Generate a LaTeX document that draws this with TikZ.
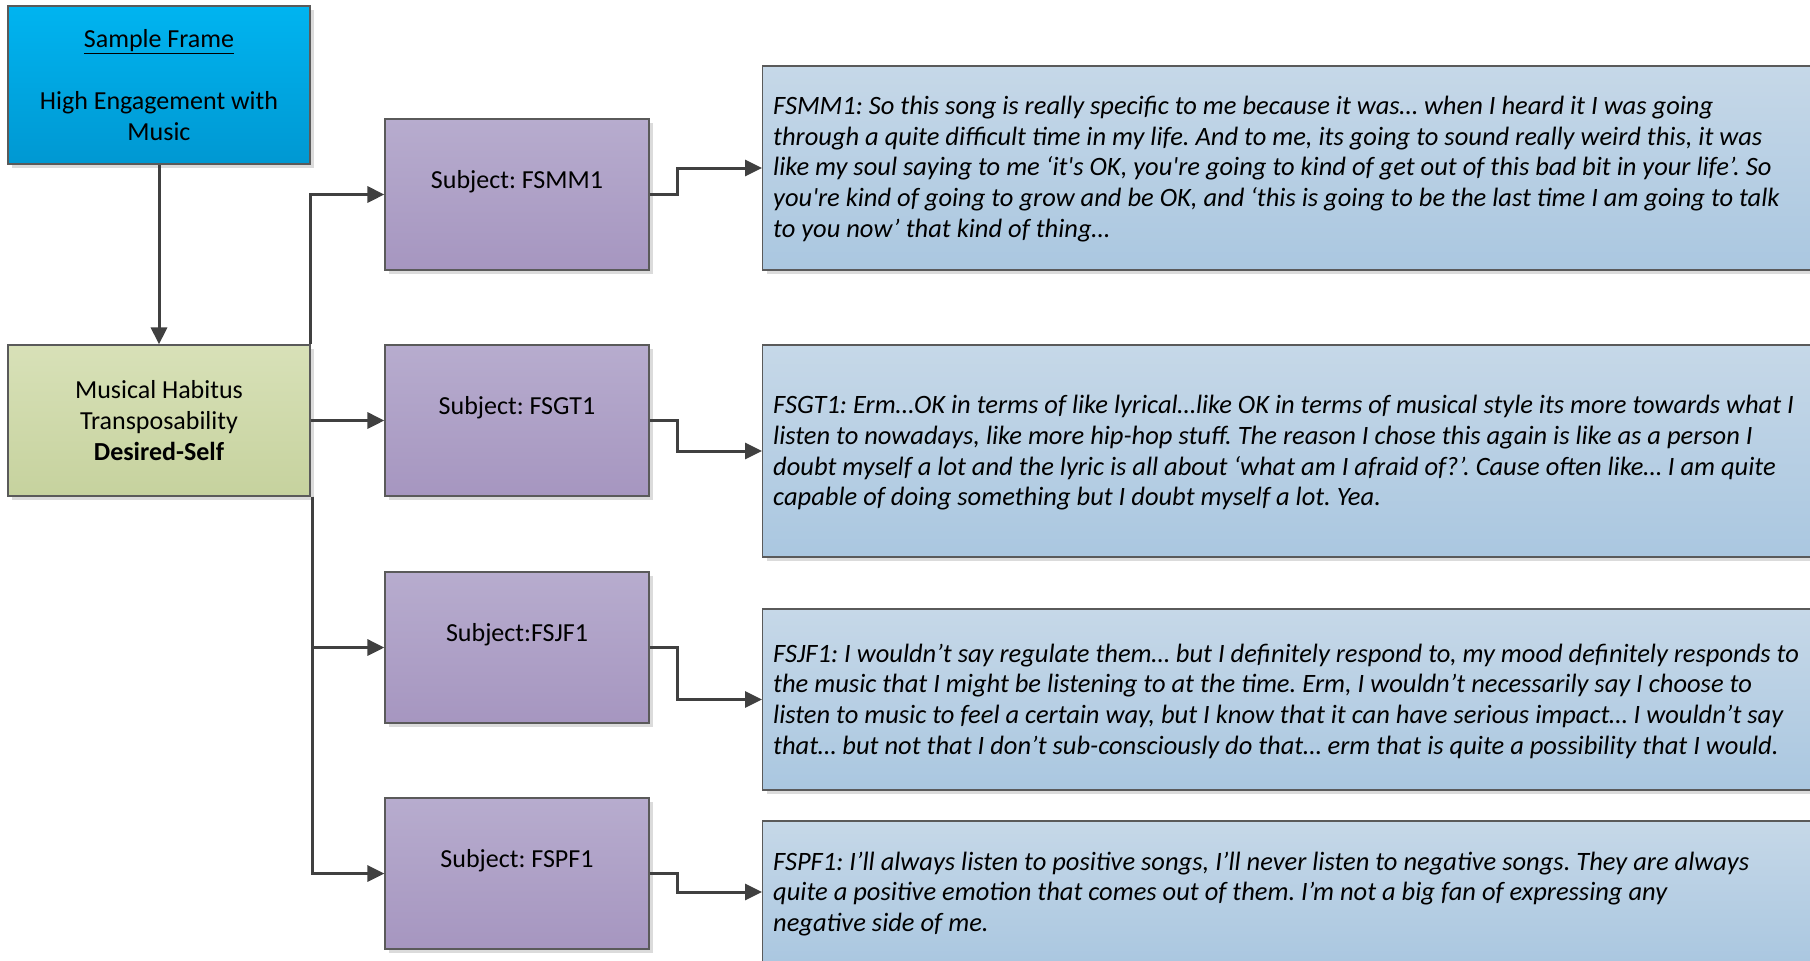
\documentclass[tikz,border=0pt]{standalone}
\usepackage{fontspec}
\setmainfont{Carlito}
\usetikzlibrary{arrows.meta,shadows}

\definecolor{frameTop}{RGB}{0,180,240}
\definecolor{frameBot}{RGB}{0,152,210}
\definecolor{habTop}{RGB}{216,225,184}
\definecolor{habBot}{RGB}{198,210,158}
\definecolor{subjTop}{RGB}{183,172,206}
\definecolor{subjBot}{RGB}{166,150,192}
\definecolor{quoteTop}{RGB}{198,216,232}
\definecolor{quoteBot}{RGB}{170,199,224}
\definecolor{edgeGray}{RGB}{90,90,90}
\definecolor{lineGray}{RGB}{64,64,64}

\tikzset{
  every node/.style={font=\fontsize{26}{31}\selectfont, text=black},
  boxbase/.style={draw=edgeGray, line width=1.2pt, rectangle, inner sep=0pt,
    drop shadow={shadow xshift=4pt, shadow yshift=-4pt, fill=black!14, opacity=1}},
  framebox/.style={boxbase, top color=frameTop, bottom color=frameBot,
    minimum width=302pt, minimum height=158pt, align=center},
  habitusbox/.style={boxbase, top color=habTop, bottom color=habBot,
    minimum width=302pt, minimum height=151pt, align=center},
  subjectbox/.style={boxbase, top color=subjTop, bottom color=subjBot,
    minimum width=264pt, minimum height=151pt, align=center},
  quotebox/.style={boxbase, top color=quoteTop, bottom color=quoteBot,
    minimum width=1070pt, anchor=west},
  quotetext/.style={anchor=west, align=left, inner sep=0pt,
    font=\fontsize{26.5}{30.7}\selectfont\itshape},
  conn/.style={draw=lineGray, line width=3pt,
    -{Triangle[length=17pt,width=16pt]}},
}

\begin{document}
\frenchspacing
\begin{tikzpicture}[x=1pt,y=-1pt]
\useasboundingbox (0,0) rectangle (1810,961);

% left column
\node[framebox] (frame) at (159,85)
  {\underline{Sample Frame}\\ \mbox{}\\High Engagement with\\Music};
\node[habitusbox] (habitus) at (159,420.5)
  {Musical Habitus\\Transposability\\\textbf{Desired-Self}};

% subjects
\node[subjectbox] (s1) at (517,194.5) {Subject: FSMM1\\ \mbox{}};
\node[subjectbox] (s2) at (517,420.5) {Subject: FSGT1\\ \mbox{}};
\node[subjectbox] (s3) at (517,647.5) {Subject:FSJF1\\ \mbox{}};
\node[subjectbox] (s4) at (517,873.5) {Subject: FSPF1\\ \mbox{}};

% quotation panels (they run past the right and bottom edges)
\begin{scope}
\clip (0,0) rectangle (1810,961);
\node[quotebox, minimum height=204pt] (q1) at (762,168) {};
\node[quotebox, minimum height=212pt] (q2) at (762,451) {};
\node[quotebox, minimum height=181pt] (q3) at (762,699.5) {};
\node[quotebox, minimum height=142pt] (q4) at (762,892) {};

\node[quotetext] (t1) at (773,169) {%
FSMM1: So this song is really specific to me because it was… when I heard it I was going\\
through a quite difficult time in my life. And to me, its going to sound really weird this, it was\\
like my soul saying to me ‘it\textquotesingle s OK, you\textquotesingle re going to kind of get out of this bad bit in your life’. So\\
you\textquotesingle re kind of going to grow and be OK, and ‘this is going to be the last time I am going to talk\\
to you now’ that kind of thing…};

\node[quotetext] (t2) at (773,453) {%
FSGT1: Erm…OK in terms of like lyrical…like OK in terms of musical style its more towards what I\\
listen to nowadays, like more hip-hop stuff. The reason I chose this again is like as a person I\\
doubt myself a lot and the lyric is all about ‘what am I afraid of?’. Cause often like… I am quite\\
capable of doing something but I doubt myself a lot. Yea.};

\node[quotetext] (t3) at (773,701) {%
FSJF1: I wouldn’t say regulate them… but I definitely respond to, my mood definitely responds to\\
the music that I might be listening to at the time. Erm, I wouldn’t necessarily say I choose to\\
listen to music to feel a certain way, but I know that it can have serious impact… I wouldn’t say\\
that… but not that I don’t sub-consciously do that… erm that is quite a possibility that I would.};

\node[quotetext] (t4) at (773,894) {%
FSPF1: I’ll always listen to positive songs, I’ll never listen to negative songs. They are always\\
quite a positive emotion that comes out of them. I’m not a big fan of expressing any\\
negative side of me.};
\end{scope}

% connectors
\draw[conn] (frame.south) -- (habitus.north);
\draw[conn] (habitus.north east) |- (s1.west);
\draw[conn] (habitus.east) -- (s2.west);
\draw[conn] ([xshift=1.5pt]habitus.south east) |- (s3.west);
\draw[conn] ([xshift=1.5pt]habitus.south east) |- (s4.west);

\draw[conn] (s1.east) -- ++(28,0) |- (q1.west);
\draw[conn] (s2.east) -- ++(28,0) |- (q2.west);
\draw[conn] (s3.east) -- ++(28,0) |- (q3.west);
\draw[conn] (s4.east) -- ++(28,0) |- (q4.west);
\end{tikzpicture}
\end{document}
